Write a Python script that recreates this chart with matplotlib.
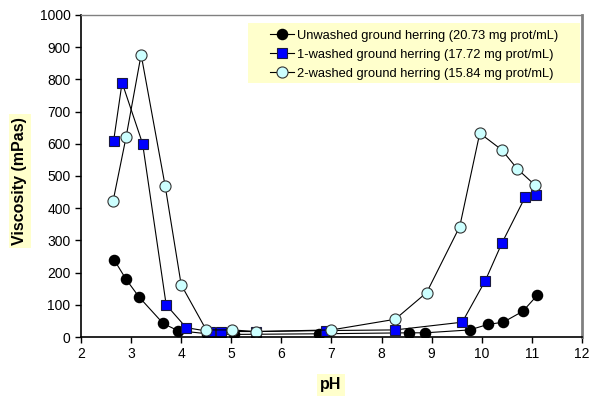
import matplotlib
matplotlib.use('Agg')
import matplotlib.pyplot as plt
from matplotlib.patches import Rectangle

plt.rcParams['font.family'] = ['Liberation Sans', 'DejaVu Sans']

# pH / viscosity (mPas) values
ph_unwashed = [2.66, 2.90, 3.16, 3.64, 3.93, 4.52, 5.05, 6.75, 8.55, 8.87, 9.76, 10.12, 10.43, 10.82, 11.11]
visc_unwashed = [240, 179, 124, 42, 20, 10, 8, 10, 13, 13, 22, 39, 46, 80, 130]

ph_washed1 = [2.65, 2.82, 3.23, 3.70, 4.10, 4.57, 4.80, 5.50, 6.89, 8.27, 9.61, 10.07, 10.40, 10.87, 11.08]
visc_washed1 = [608, 790, 600, 100, 29, 17, 17, 17, 20, 22, 46, 175, 291, 436, 442]

ph_washed2 = [2.64, 2.90, 3.20, 3.68, 4.00, 4.50, 5.01, 5.50, 7.00, 8.27, 8.90, 9.56, 9.96, 10.40, 10.71, 11.06]
visc_washed2 = [422, 621, 877, 469, 162, 22, 22, 17, 22, 55, 138, 343, 633, 581, 522, 472]

labels = ['Unwashed ground herring (20.73 mg prot/mL)',
          '1-washed ground herring (17.72 mg prot/mL)',
          '2-washed ground herring (15.84 mg prot/mL)']

fig = plt.figure(figsize=(5.9, 4.01), dpi=100)
ax = fig.add_axes([0.1373, 0.1596, 0.8491, 0.803])

ax.plot(ph_unwashed, visc_unwashed, color='black', linewidth=0.8, marker='o',
        markersize=7.3, markerfacecolor='black', markeredgecolor='black', label=labels[0])
ax.plot(ph_washed1, visc_washed1, color='black', linewidth=0.8, marker='s',
        markersize=7.3, markerfacecolor='#0000FF', markeredgecolor='#1a1a40',
        markeredgewidth=0.8, label=labels[1])
ax.plot(ph_washed2, visc_washed2, color='black', linewidth=0.8, marker='o',
        markersize=8, markerfacecolor='#CCFFFF', markeredgecolor='#333333',
        markeredgewidth=0.8, label=labels[2])

ax.set_xlim(2, 12)
ax.set_ylim(0, 1000)
ax.set_xticks(range(2, 13))
ax.set_yticks(range(0, 1001, 100))
ax.tick_params(direction='out', length=4, width=1, labelsize=10, colors='black')

for s in ['left', 'bottom']:
    ax.spines[s].set_color('black')
    ax.spines[s].set_linewidth(1.2)
ax.spines['top'].set_color('#808080')
ax.spines['top'].set_linewidth(1.0)
ax.spines['right'].set_color('#808080')
ax.spines['right'].set_linewidth(2.0)

fig.text(331 / 590, 1 - 385 / 401, 'pH', fontsize=11.5, fontweight='bold',
         ha='center', va='center',
         bbox=dict(facecolor='#FFFFCC', edgecolor='none', pad=2.5))
fig.text(20 / 590, 1 - 181 / 401, 'Viscosity (mPas)', fontsize=11.5, fontweight='bold',
         rotation=90, ha='center', va='center',
         bbox=dict(facecolor='#FFFFCC', edgecolor='none', pad=2.5))

# legend background
ax.add_patch(Rectangle((0.333, 0.789), 0.663, 0.186, transform=ax.transAxes,
                       facecolor='#FFFFCC', edgecolor='none', zorder=1))
leg = ax.legend(loc='upper left', bbox_to_anchor=(0.377, 0.955), frameon=False,
                fontsize=9.3, handlelength=1.9, handletextpad=0.2, labelspacing=0.55,
                borderaxespad=0, borderpad=0)

fig.savefig('out.png', dpi=100)
